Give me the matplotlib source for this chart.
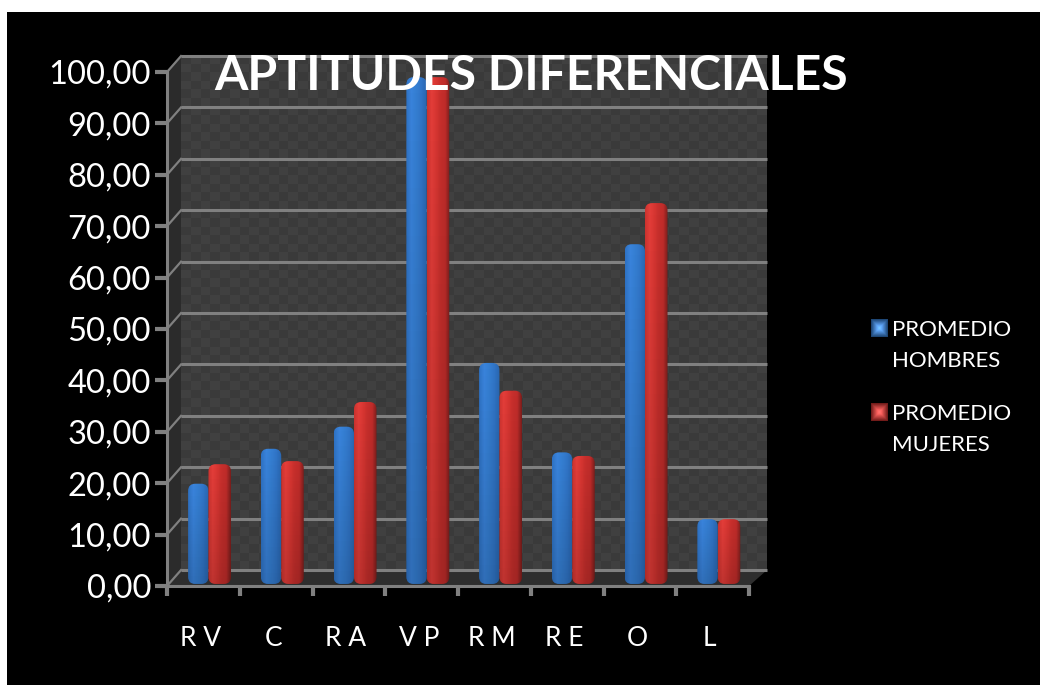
import matplotlib
matplotlib.use('Agg')
import matplotlib.pyplot as plt
import numpy as np
from matplotlib.colors import LinearSegmentedColormap
from matplotlib.patches import FancyBboxPatch, Polygon, Rectangle
from matplotlib.transforms import ScaledTranslation

categories = ['R V', 'C', 'R A', 'V P', 'R M', 'R E', 'O', 'L']
hombres = [18.9, 25.7, 30.0, 98.0, 42.4, 25.0, 65.5, 12.0]
mujeres = [22.7, 23.3, 34.8, 98.0, 37.0, 24.3, 73.5, 12.0]
y_ticks = [0, 10, 20, 30, 40, 50, 60, 70, 80, 90, 100]
legend_labels = ['PROMEDIO\nHOMBRES', 'PROMEDIO\nMUJERES']

W, H = 1040, 685
GREY = '#808080'
BASE = 1.0  # bars stand on the floor, a little behind the front edge
plt.rcParams['font.family'] = ['Lato', 'DejaVu Sans']

blue_map = LinearSegmentedColormap.from_list('b', ['#2f72c4', '#3a84dc', '#357ed2', '#3074c6', '#2a66ae'])
red_map = LinearSegmentedColormap.from_list('r', ['#cc332f', '#e43e3a', '#d83632', '#c62f2c', '#c02c2a', '#7a1e1c'])


def draw_bar(ax, x0, width, value, cmap):
    # horizontal shading, darker towards the base, clipped to a rounded top
    grad = np.linspace(0, 1, 64)[None, :]
    im = ax.imshow(grad, extent=(x0, x0 + width, 0, value + BASE), cmap=cmap, aspect='auto', zorder=3)
    overlay = np.zeros((32, 1, 4))
    overlay[:, 0, 3] = np.linspace(0.0, 0.16, 32)
    im2 = ax.imshow(overlay, extent=(x0, x0 + width, 0, value + BASE), aspect='auto', zorder=3.1, origin='upper')
    clip = FancyBboxPatch((x0, BASE - 0.6), width, value + 0.6, boxstyle='round,pad=0,rounding_size=0.1',
                          mutation_aspect=14, transform=ax.transData, fc='none', ec='none')
    ax.add_patch(clip)
    im.set_clip_path(clip)
    im2.set_clip_path(clip)


fig = plt.figure(figsize=(W / 100, H / 100), dpi=100, facecolor='white')

# black slide behind the chart
bg = fig.add_axes([0, 0, 1, 1])
bg.axis('off')
bg.add_patch(Rectangle((7, 12), W, H, fc='black', ec='none'))

# back wall with its dither pattern
wall = np.kron(np.indices((60, 60)).sum(axis=0) % 2, np.ones((4, 4)))
wall = 0.23 + wall * 0.02
bg.imshow(wall, extent=(181, 767, 570, 55), cmap='gray', vmin=0, vmax=1, aspect='auto', zorder=1,
          interpolation='nearest')
bg.add_patch(Polygon([(167, 72), (181, 55), (181, 570), (167, 586)], fc='#2b2b2b', ec='none', zorder=1.1))
bg.add_patch(Polygon([(167, 586), (181, 570), (767, 570), (749, 586)], fc='#2e2e2e', ec='none', zorder=1.1))

# front plane: y follows the value axis, x counts categories
ax = fig.add_axes([167 / W, 1 - 586 / H, (749 - 167) / W, (586 - 72) / H])
ax.patch.set_alpha(0)

back = ax.transData + ScaledTranslation(14 / 100, 16 / 100, fig.dpi_scale_trans)
for t in y_ticks:
    ax.plot([0, len(categories) + 0.05], [t, t], color=GREY, lw=2.2, transform=back, zorder=2, clip_on=False,
            solid_capstyle='butt')
    ax.plot([0, 14 / 72.75], [t, t + 3.1], color=GREY, lw=1.6, zorder=2, clip_on=False)

x = np.arange(len(categories))
for i in x:
    draw_bar(ax, i + 0.29, 0.28, hombres[i], blue_map)
    draw_bar(ax, i + 0.57, 0.31, mujeres[i], red_map)
ax.set_xlim(0, len(categories))
ax.set_ylim(0, 100)

for s in ['top', 'right']:
    ax.spines[s].set_visible(False)
for s in ['left', 'bottom']:
    ax.spines[s].set_color(GREY)
    ax.spines[s].set_linewidth(2.2)
ax.set_xticks(np.arange(len(categories) + 1))
ax.set_xticklabels([])
ax.set_xticks(x + 0.46, categories, minor=True)
ax.tick_params(axis='x', which='major', length=7, width=3, color=GREY, direction='out')
ax.tick_params(axis='x', which='minor', length=0, pad=28.5, labelsize=19, labelcolor='white')
ax.set_yticks(y_ticks, ['%d,00' % t for t in y_ticks])
ax.tick_params(axis='y', length=8.5, width=3, color=GREY, pad=3, labelsize=23.5, labelcolor='white')

fig.text(531 / W, 1 - 75.5 / H, 'APTITUDES DIFERENCIALES', color='white', fontsize=34.7, fontweight='bold',
         ha='center', va='center', zorder=10)

# legend
yy, xx = np.mgrid[-1:1:24j, -1:1:24j]
bevel = 1 - np.maximum(np.abs(xx), np.abs(yy))
for label, cmap, ly in zip(legend_labels, [blue_map, red_map], [328, 412]):
    dark = cmap(0.55 + 0 * bevel)
    shade = (0.55 + 0.6 * bevel)[:, :, None]
    bg.imshow(np.clip(dark[:, :, :3] * shade + 0.25 * bevel[:, :, None], 0, 1), extent=(871, 888, ly + 9, ly - 9),
              aspect='auto', zorder=3)
    bg.text(892, ly - 8, label, color='white', fontsize=16, va='top', ha='left', linespacing=1.7)
bg.set_xlim(0, W)
bg.set_ylim(H, 0)

fig.savefig('out.png', dpi=100, facecolor='white')
